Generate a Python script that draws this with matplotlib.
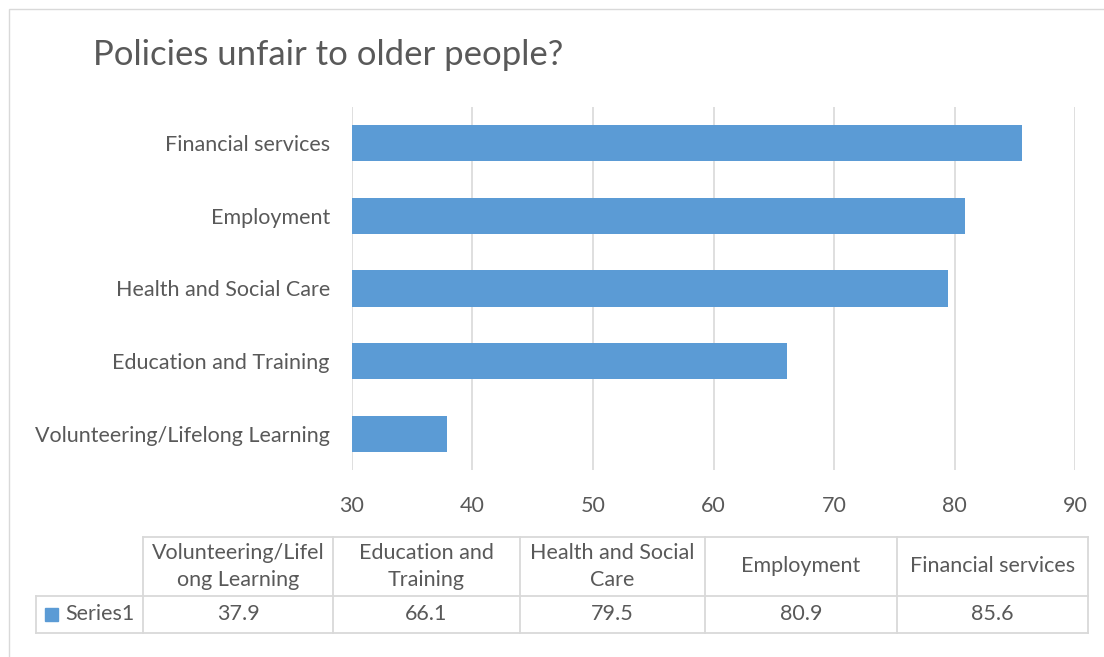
import matplotlib.pyplot as plt
from matplotlib.patches import Rectangle

plt.rcParams['font.family'] = ['Lato', 'DejaVu Sans']

categories = ["Volunteering/Lifelong Learning", "Education and Training",
              "Health and Social Care", "Employment", "Financial services"]
header_labels = ["Volunteering/Lifel\nong Learning", "Education and\nTraining",
                 "Health and Social\nCare", "Employment", "Financial services"]
values = [37.9, 66.1, 79.5, 80.9, 85.6]
series_name = "Series1"

bar_colour = "#5B9BD5"
text_colour = "#595959"
grid_colour = "#D9D9D9"
fs = 15.5

W, H = 1104, 657
fig = plt.figure(figsize=(W / 100, H / 100), dpi=100)

# chart frame
fig.patches.append(Rectangle((9 / W, -0.1), 1.2, (H - 9) / H + 0.1,
                             transform=fig.transFigure, fill=False,
                             edgecolor=grid_colour, linewidth=1))

fig.text(93 / W, 1 - 55 / H, "Policies unfair to older people?", fontsize=25,
         color=text_colour, va="center", ha="left")

ax = fig.add_axes([352 / W, 1 - 470 / H, (1075 - 352) / W, (470 - 107) / H])
ypos = range(len(categories))
ax.barh(ypos, values, height=0.5, color=bar_colour, zorder=3)
ax.set_xlim(30, 90)
ax.set_ylim(-0.5, 4.5)
ax.set_xticks(range(30, 91, 10))
ax.set_yticks(list(ypos))
ax.set_yticklabels(categories)
ax.grid(axis="x", color=grid_colour, linewidth=1.2, zorder=0)
for s in ax.spines.values():
    s.set_visible(False)
ax.tick_params(length=0, labelsize=fs, colors=text_colour)
ax.tick_params(axis="x", pad=19)
ax.tick_params(axis="y", pad=16)

# data table below the axis
col_x = [36, 143, 333, 520, 705, 897, 1088]
row_y = [537, 596, 633]


def fx(x):
    return x / W


def fy(y):
    return 1 - y / H


line_kw = dict(color=grid_colour, linewidth=1.3, transform=fig.transFigure)
fig.add_artist(plt.Line2D([fx(col_x[1]), fx(col_x[-1])], [fy(row_y[0])] * 2, **line_kw))
for y in row_y[1:]:
    fig.add_artist(plt.Line2D([fx(col_x[0]), fx(col_x[-1])], [fy(y)] * 2, **line_kw))
fig.add_artist(plt.Line2D([fx(col_x[0])] * 2, [fy(row_y[1]), fy(row_y[2])], **line_kw))
for x in col_x[1:]:
    fig.add_artist(plt.Line2D([fx(x)] * 2, [fy(row_y[0]), fy(row_y[2])], **line_kw))

for i, (lab, v) in enumerate(zip(header_labels, values)):
    cx = (col_x[i + 1] + col_x[i + 2]) / 2
    fig.text(fx(cx), fy((row_y[0] + row_y[1]) / 2), lab, ha="center", va="center",
             fontsize=fs, color=text_colour, linespacing=1.45)
    fig.text(fx(cx), fy((row_y[1] + row_y[2]) / 2), f"{v:.1f}", ha="center",
             va="center", fontsize=fs, color=text_colour)

fig.patches.append(Rectangle((fx(45), fy(621)), 13 / W, 13 / H,
                             transform=fig.transFigure, color=bar_colour))
fig.text(fx(65), fy((row_y[1] + row_y[2]) / 2), series_name, ha="left",
         va="center", fontsize=fs, color=text_colour)

fig.savefig("out.png", dpi=100)
